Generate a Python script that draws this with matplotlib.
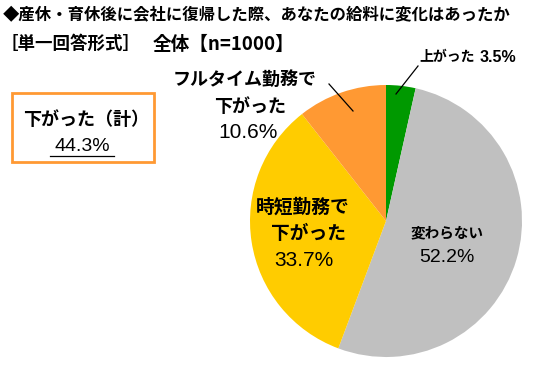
import matplotlib
matplotlib.use("Agg")
import matplotlib.pyplot as plt
from matplotlib.patches import Rectangle

plt.rcParams['font.family'] = ['Noto Sans CJK JP', 'DejaVu Sans']
NUM_FONT = ['Liberation Sans Narrow', 'Liberation Sans', 'DejaVu Sans']

# データ（時計回り、上から）
labels = ['上がった', '変わらない', '時短勤務で\n下がった', 'フルタイム勤務で\n下がった']
values = [3.5, 52.2, 33.7, 10.6]
colors = ['#009900', '#C0C0C0', '#FFCC00', '#FF9933']
total_down = 44.3

title1 = '◆産休・育休後に会社に復帰した際、あなたの給料に変化はあったか'
title2a = '［単一回答形式］'
title2b = '全体【n=1000】'

W, H = 546, 389
fig = plt.figure(figsize=(W / 100, H / 100), dpi=100)
ax = fig.add_axes([0, 0, 1, 1])

# 円グラフ
ax.pie(values, colors=colors, startangle=90, counterclock=False,
       center=(386, H - 221), radius=136, frame=True)
ax.set_xlim(0, W)
ax.set_ylim(0, H)
ax.set_aspect('equal')
ax.axis('off')

# タイトル
ax.text(3, H - 15, title1, fontsize=11.8, fontweight='bold', va='center', ha='left')
ax.text(1, H - 44, title2a, fontsize=12.6, fontweight='bold', va='center', ha='left')
ax.text(153, H - 44, title2b, fontsize=13.4, fontweight='bold', va='center', ha='left')

# 上がった
ax.text(419, H - 57, labels[0], fontsize=10, fontweight='bold', va='center', ha='left')
ax.text(480, H - 57, f'{values[0]}%', fontsize=11.5, fontweight='bold',
        family=NUM_FONT, va='center', ha='left')
ax.plot([396, 418], [H - 94, H - 66], color='black', lw=0.9)

# フルタイム勤務で下がった
ax.text(245, H - 79, 'フルタイム勤務で', fontsize=13, fontweight='bold', va='center', ha='center')
ax.text(250, H - 106, '下がった', fontsize=13, fontweight='bold', va='center', ha='center')
ax.text(248, H - 132, f'{values[3]}%', fontsize=15, family=NUM_FONT, va='center', ha='center')
ax.plot([353, 329], [H - 111, H - 84], color='black', lw=0.9)

# 時短勤務で下がった
ax.text(303, H - 207, '時短勤務で', fontsize=13.5, fontweight='bold', va='center', ha='center')
ax.text(309, H - 233, '下がった', fontsize=13.5, fontweight='bold', va='center', ha='center')
ax.text(304, H - 260, f'{values[2]}%', fontsize=15, family=NUM_FONT, va='center', ha='center')

# 変わらない
ax.text(447, H - 232, '変わらない', fontsize=10.5, fontweight='bold', va='center', ha='center')
ax.text(447, H - 257, f'{values[1]}%', fontsize=14, family=NUM_FONT, va='center', ha='center')

# 下がった（計）ボックス
ax.add_patch(Rectangle((12, H - 162), 142, 69, fill=False, edgecolor='#FF9933', lw=2))
ax.text(86, H - 119, '下がった（計）', fontsize=13, fontweight='bold', va='center', ha='center')
ax.text(82, H - 146, f'{total_down}%', fontsize=14, family=NUM_FONT, va='center', ha='center')
ax.plot([50, 114], [H - 156, H - 156], color='black', lw=0.9)

fig.savefig('out.png', dpi=100)
